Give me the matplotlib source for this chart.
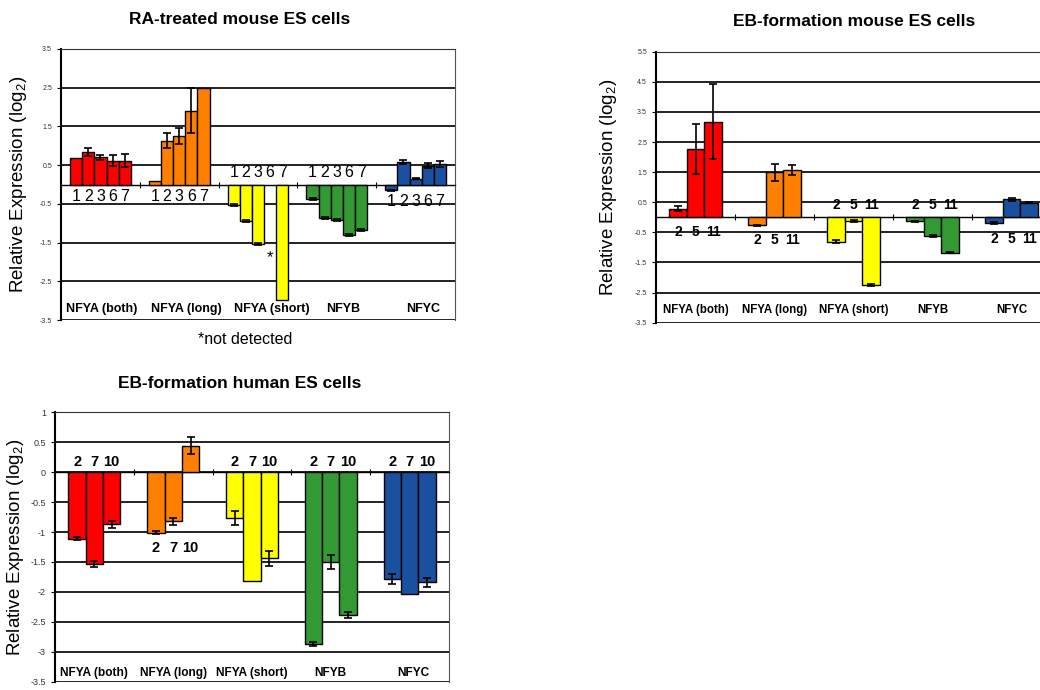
import numpy as np
import matplotlib.pyplot as plt

plt.rcParams['font.family'] = ['Liberation Sans', 'DejaVu Sans']
plt.rcParams['mathtext.default'] = 'regular'

# ---------------------------------------------------------------------------
# Data (log2 relative expression)
# ---------------------------------------------------------------------------
GENES = ["NFYA (both)", "NFYA (long)", "NFYA (short)", "NFYB", "NFYC"]
COLORS = ['#ff0000', '#ff8000', '#ffff00', '#339933', '#1a50a0']

# RA-treated mouse ES cells, days 1 2 3 6 7 (nan = not detected)
RA_DAYS = ["1", "2", "3", "6", "7"]
RA_VALS = [[0.68, 0.84, 0.70, 0.62, 0.62],
           [0.10, 1.13, 1.25, 1.91, 2.49],
           [-0.53, -0.95, -1.53, np.nan, -2.99],
           [-0.37, -0.86, -0.92, -1.31, -1.18],
           [-0.15, 0.59, 0.15, 0.49, 0.52]]
RA_ERRS = [[0.00, 0.10, 0.07, 0.15, 0.18],
           [0.00, 0.20, 0.20, 0.59, 0.00],
           [0.02, 0.03, 0.03, 0.00, 0.00],
           [0.02, 0.03, 0.03, 0.03, 0.03],
           [0.02, 0.05, 0.02, 0.07, 0.08]]

# EB-formation mouse ES cells, days 2 5 11
EBM_DAYS = ["2", "5", "11"]
EBM_VALS = [[0.28, 2.27, 3.18],
            [-0.26, 1.49, 1.58],
            [-0.81, -0.11, -2.25],
            [-0.13, -0.62, -1.18],
            [-0.20, 0.60, 0.49]]
EBM_ERRS = [[0.08, 0.83, 1.25],
            [0.02, 0.28, 0.17],
            [0.05, 0.03, 0.02],
            [0.02, 0.03, 0.02],
            [0.03, 0.05, 0.02]]

# EB-formation human ES cells, days 2 7 10
EBH_DAYS = ["2", "7", "10"]
EBH_VALS = [[-1.11, -1.54, -0.87],
            [-1.01, -0.82, 0.44],
            [-0.76, -1.82, -1.44],
            [-2.87, -1.50, -2.39],
            [-1.78, -2.03, -1.84]]
EBH_ERRS = [[0.03, 0.05, 0.06],
            [0.03, 0.06, 0.14],
            [0.12, 0.00, 0.12],
            [0.03, 0.11, 0.05],
            [0.08, 0.00, 0.08]]


def panel(ax, days, vals, errs, ylim, yticks, span, day_y, day_kw,
          name_x, name_y, name_size, tick_size, missing_y=None):
    n = len(days)
    w = span / n
    x = np.arange(len(GENES))
    for g in range(len(GENES)):
        v = np.array(vals[g], float)
        e = np.array(errs[g], float)
        pos = x[g] + (np.arange(n) - (n - 1) / 2) * w
        ok = ~np.isnan(v)
        ax.bar(pos[ok], v[ok], w, color=COLORS[g], edgecolor='black',
               linewidth=1, zorder=3)
        has = ok & (e > 0)
        ax.errorbar(pos[has], v[has], yerr=e[has], fmt='none', ecolor='black',
                    elinewidth=1.2, capsize=3, capthick=1.2, zorder=4)
        for p in pos[~ok]:
            ax.text(p, missing_y, "*", ha='center', va='center', fontsize=12)
        for p, d in zip(pos, days):
            ax.text(p, day_y[g], d, ha='center', va='center', **day_kw)
        ax.text(x[g] + name_x[g], name_y, GENES[g], ha='center', va='center',
                fontsize=name_size, fontweight='bold')

    ax.set_xlim(-0.5, len(GENES) - 0.5)
    ax.set_ylim(*ylim)
    ax.set_yticks(yticks)
    ax.set_yticklabels([f"{t:g}" for t in yticks])
    ax.yaxis.grid(True, color='#222222', linewidth=1.4)
    ax.set_axisbelow(True)
    ax.set_xticks(x[:-1] + 0.5)
    ax.tick_params(axis='x', direction='inout', length=4, labelbottom=False)
    ax.tick_params(axis='y', labelsize=tick_size, length=3, labelcolor='#333333')
    ax.spines['bottom'].set_position(('data', 0))
    ax.spines['bottom'].set_linewidth(1.0)
    ax.spines['left'].set_linewidth(1.5)
    ax.spines['top'].set_color('#333333')
    ax.spines['right'].set_color('#555555')
    ax.set_ylabel("Relative Expression (log$_2$)", fontsize=13.5)


fig = plt.figure(figsize=(10.4, 6.9), dpi=100)

# RA-treated mouse ES cells
ax1 = fig.add_axes([0.0587, 0.5362, 0.3788, 0.3928])
panel(ax1, RA_DAYS, RA_VALS, RA_ERRS, (-3.5, 3.5), np.arange(3.5, -3.6, -1.0),
      0.77, [-0.30, -0.30, 0.32, 0.32, -0.43],
      dict(fontsize=11.5), [0.02, 0.09, 0.18, 0.08, 0.09], -3.22, 9, 5,
      missing_y=-1.88)
ax1.yaxis.set_label_coords(-0.082, 0.5)
fig.text(240 / 1040, 1 - 20 / 690, "RA-treated mouse ES cells", ha='center',
         va='center', fontsize=12.5, fontweight='bold')
fig.text(245 / 1040, 1 - 340 / 690, "*not detected", ha='center', va='center',
         fontsize=11.5)

# EB-formation mouse ES cells
ax2 = fig.add_axes([0.6308, 0.5323, 0.3798, 0.3928])
panel(ax2, EBM_DAYS, EBM_VALS, EBM_ERRS, (-3.5, 5.5), np.arange(5.5, -3.6, -1.0),
      0.67, [-0.49, -0.77, 0.40, 0.40, -0.72],
      dict(fontsize=10, fontweight='bold'),
      [0, 0, 0, 0, 0], -3.08, 8.3, 5)
ax2.yaxis.set_label_coords(-0.095, 0.5)
fig.text(854 / 1040, 1 - 22 / 690, "EB-formation mouse ES cells", ha='center',
         va='center', fontsize=12.5, fontweight='bold')

# EB-formation human ES cells
ax3 = fig.add_axes([0.0529, 0.0120, 0.3788, 0.3904])
panel(ax3, EBH_DAYS, EBH_VALS, EBH_ERRS, (-3.5, 1.0), np.arange(1.0, -3.6, -0.5),
      0.66, [0.17, -1.26, 0.17, 0.17, 0.17],
      dict(fontsize=10.5, fontweight='bold'),
      [0, 0, 0, 0, 0.05], -3.36, 8.6, 6.5)
ax3.yaxis.set_label_coords(-0.073, 0.5)
fig.text(240 / 1040, 1 - 383 / 690, "EB-formation human ES cells", ha='center',
         va='center', fontsize=12.5, fontweight='bold')

fig.savefig("out.png", dpi=100)
